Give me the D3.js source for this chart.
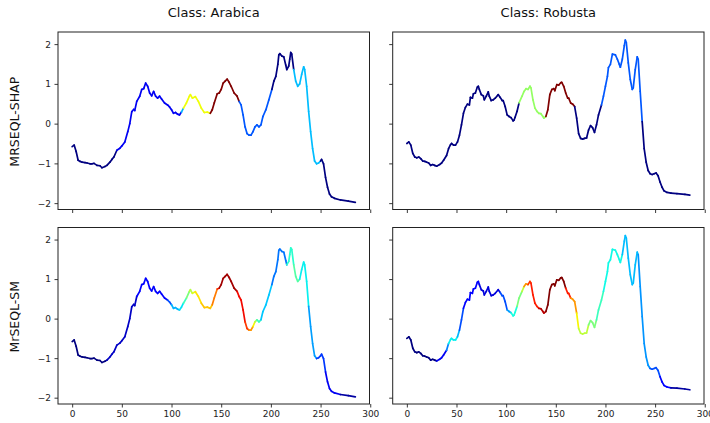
<!DOCTYPE html>
<html>
<head>
<meta charset="utf-8">
<script src="https://cdn.jsdelivr.net/npm/d3@7"></script>
<style>
  html, body { margin: 0; padding: 0; background: #fff; }
  svg { display: block; font-family: "DejaVu Sans", sans-serif; }
</style>
</head>
<body>
<svg id="chart" width="710" height="423"></svg>
<script>
// Spectra for one sample of each coffee class: [step, value]
const arabicaSeries = [
  [0,-0.58],[2,-0.54],[4,-0.7],[6,-0.92],[8,-0.95],[10,-0.97],[13,-0.98],[15,-0.99],
  [18,-1.01],[20,-1.01],[22,-1.0],[25,-1.05],[28,-1.06],[30,-1.11],[33,-1.08],[35,-1.05],
  [38,-0.97],[40,-0.9],[42,-0.84],[45,-0.67],[48,-0.62],[50,-0.56],[53,-0.46],[56,-0.2],
  [58,0.0],[60,0.3],[62,0.36],[63,0.33],[65,0.56],[68,0.69],[70,0.86],[72,0.88],
  [74,1.02],[76,0.94],[78,0.77],[80,0.70],[82,0.81],[84,0.69],[86,0.64],[88,0.69],
  [90,0.62],[93,0.52],[96,0.47],[98,0.42],[100,0.35],[102,0.26],[104,0.28],[106,0.24],
  [108,0.22],[110,0.29],[112,0.39],[115,0.52],[118,0.69],[119,0.73],[121,0.64],[124,0.68],
  [127,0.56],[130,0.39],[133,0.28],[136,0.29],[139,0.26],[141,0.35],[143,0.52],[146,0.75],
  [148,0.77],[150,0.86],[152,1.02],[154,1.07],[156,1.12],[158,1.04],[160,0.94],[163,0.77],
  [166,0.69],[168,0.56],[170,0.47],[172,0.22],[174,-0.08],[176,-0.25],[178,-0.29],[180,-0.29],
  [182,-0.2],[184,-0.08],[186,-0.03],[188,-0.08],[190,-0.03],[192,0.18],[195,0.35],[198,0.6],
  [201,0.86],[203,1.07],[205,1.19],[207,1.49],[208,1.73],[209,1.76],[211,1.70],[213,1.68],
  [215,1.47],[216,1.36],[218,1.45],[219,1.62],[220,1.79],[221,1.75],[223,1.36],[225,1.07],
  [227,0.94],[229,1.0],[231,1.24],[233,1.43],[234,1.36],[236,0.94],[238,0.31],[240,-0.2],
  [242,-0.63],[244,-0.94],[246,-1.01],[248,-0.99],[250,-0.94],[251,-0.90],[253,-1.01],[255,-1.35],
  [257,-1.6],[259,-1.77],[261,-1.84],[264,-1.88],[270,-1.92],[278,-1.95],[285,-1.98]
];

const robustaSeries = [
  [0,-0.5],[2,-0.46],[4,-0.54],[6,-0.75],[8,-0.84],[10,-0.86],[12,-0.84],[14,-0.88],
  [16,-0.94],[18,-0.95],[20,-0.97],[22,-0.99],[24,-1.05],[26,-1.03],[28,-1.05],[30,-1.07],
  [33,-1.03],[35,-0.99],[37,-0.92],[40,-0.8],[42,-0.63],[44,-0.53],[45,-0.5],[47,-0.54],
  [49,-0.54],[51,-0.46],[53,-0.29],[55,-0.03],[57,0.26],[59,0.41],[61,0.49],[63,0.47],
  [64,0.66],[66,0.64],[67,0.75],[69,0.77],[71,0.92],[72,0.94],[73,0.86],[75,0.73],
  [77,0.70],[78,0.6],[80,0.69],[82,0.8],[83,0.69],[85,0.58],[87,0.6],[89,0.64],
  [92,0.73],[94,0.66],[96,0.58],[97,0.58],[99,0.43],[101,0.22],[103,0.18],[105,0.15],
  [107,0.07],[108,0.09],[109,0.16],[111,0.31],[113,0.52],[116,0.69],[118,0.81],[120,0.88],
  [122,0.86],[124,0.94],[125,0.9],[127,0.6],[129,0.39],[131,0.31],[133,0.26],[135,0.25],
  [137,0.18],[138,0.14],[140,0.18],[142,0.35],[144,0.73],[146,0.86],[148,0.88],[149,0.83],
  [151,0.98],[153,0.97],[155,1.03],[156,1.04],[158,0.94],[160,0.77],[162,0.64],[163,0.64],
  [165,0.52],[167,0.49],[169,0.43],[171,0.14],[173,-0.25],[175,-0.37],[177,-0.39],[179,-0.37],
  [181,-0.36],[183,-0.16],[185,-0.05],[187,-0.1],[189,-0.22],[191,-0.03],[193,0.22],[196,0.47],
  [198,0.69],[200,0.94],[202,1.19],[203,1.41],[205,1.49],[207,1.75],[210,1.73],[212,1.62],
  [214,1.49],[215,1.42],[217,1.62],[219,1.96],[220,2.10],[221,2.04],[223,1.53],[225,1.11],
  [227,0.86],[228,0.9],[230,1.36],[232,1.68],[233,1.62],[235,0.81],[237,0.05],[239,-0.63],
  [241,-0.97],[243,-1.18],[245,-1.26],[247,-1.28],[249,-1.26],[251,-1.24],[253,-1.31],[255,-1.47],
  [257,-1.6],[259,-1.69],[262,-1.73],[266,-1.75],[272,-1.76],[280,-1.78],[285,-1.80]
];

// Explanation weights (0..1) as runs: [first step of run, weight]
const arabicaShap = [[0,0],[44,0.1],[110,0.3],[112,0.64],[139,1.0],[168,0.21],[200,0.0],[222,0.31],[250,0.0]];
const robustaShap = [[0,0],[113,0.53],[140,1.0],[169,0.0],[195,0.21],[236,0.0]];
const arabicaSm = [
  [0,0],[35,0.06],[65,0.12],[95,0.2],[100,0.3],[108,0.35],[112,0.42],[115,0.5],[118,0.57],
  [121,0.62],[124,0.67],[130,0.7],[140,0.78],[144,0.87],[148,0.97],[166,0.9],[174,0.85],
  [178,0.75],[181,0.65],[183,0.55],[186,0.42],[190,0.32],[200,0.24],[216,0.4],[222,0.45],
  [228,0.36],[237,0.28],[245,0.18],[255,0.1],[265,0.03]
];
const robustaSm = [
  [0,0],[30,0.1],[38,0.25],[41,0.36],[50,0.3],[53,0.2],[56,0.12],[73,0.08],[93,0.2],
  [100,0.28],[105,0.38],[110,0.5],[115,0.58],[118,0.75],[121,0.85],[125,0.88],[133,0.95],
  [140,1.0],[160,0.88],[165,0.75],[170,0.65],[173,0.58],[182,0.5],[190,0.42],[197,0.37],
  [217,0.31],[233,0.27],[245,0.2],[255,0.12],[265,0.03]
];

const classNames = ["Arabica", "Robusta"];
const methodNames = ["MRSEQL-SHAP", "MrSEQL-SM"];
const xTickValues = [0, 50, 100, 150, 200, 250, 300];
const yTickValues = [-2, -1, 0, 1, 2];

const seriesByClass = [arabicaSeries, robustaSeries];
const weightsGrid = [[arabicaShap, robustaShap], [arabicaSm, robustaSm]];

// matplotlib "jet" colormap, rebuilt from its channel breakpoints
const jetR = d3.scaleLinear().domain([0, 0.35, 0.66, 0.89, 1]).range([0, 0, 1, 1, 0.5]).clamp(true);
const jetG = d3.scaleLinear().domain([0, 0.125, 0.375, 0.64, 0.91, 1]).range([0, 0, 1, 1, 0, 0]).clamp(true);
const jetB = d3.scaleLinear().domain([0, 0.11, 0.34, 0.65, 1]).range([0.5, 1, 1, 0, 0]).clamp(true);
const jet = v => d3.rgb(jetR(v) * 255, jetG(v) * 255, jetB(v) * 255).formatHex();

function weightAt(runs, step) {
  let w = runs[0][1];
  for (const [start, val] of runs) { if (step >= start) w = val; else break; }
  return w;
}

const svg = d3.select("#chart");
const colX = [[58, 369.5], [392.7, 704]];
const rowY = [[32, 209.5], [227.5, 404]];
const xDomain = [-14.25, 299.25];
const yDomain = [-2.16, 2.305];

const fmt = d => d3.format("d")(d).replace("-", "\u2212");

methodNames.forEach((method, r) => {
  classNames.forEach((cls, c) => {
    const [x0, x1] = colX[c];
    const [y0, y1] = rowY[r];
    const x = d3.scaleLinear().domain(xDomain).range([x0, x1]);
    const y = d3.scaleLinear().domain(yDomain).range([y1, y0]);
    const g = svg.append("g");

    // colored line segments
    const data = seriesByClass[c];
    const runs = weightsGrid[r][c];
    const line = d3.line().x(d => x(d[0])).y(d => y(d[1]));
    const segs = d3.pairs(data);
    g.append("g")
      .selectAll("path")
      .data(segs)
      .join("path")
      .attr("d", d => line(d))
      .attr("fill", "none")
      .attr("stroke", d => jet(weightAt(runs, d[0][0])))
      .attr("stroke-width", 1.7)
      .attr("stroke-linecap", "round")
      .attr("stroke-linejoin", "round");

    // frame
    g.append("rect")
      .attr("x", x0).attr("y", y0)
      .attr("width", x1 - x0).attr("height", y1 - y0)
      .attr("fill", "none").attr("stroke", "#222").attr("stroke-width", 1);

    // axes
    const xAxis = d3.axisBottom(x).tickValues(xTickValues).tickSize(3.5).tickPadding(3.5)
      .tickFormat(r === 1 ? fmt : () => "");
    const yAxis = d3.axisLeft(y).tickValues(yTickValues).tickSize(3.5).tickPadding(3.5)
      .tickFormat(c === 0 ? fmt : () => "");
    const gx = g.append("g").attr("transform", `translate(0,${y1})`).call(xAxis);
    const gy = g.append("g").attr("transform", `translate(${x0},0)`).call(yAxis);
    [gx, gy].forEach(a => {
      a.select(".domain").remove();
      a.selectAll(".tick line").attr("stroke", "#222").attr("stroke-width", 0.9);
      a.selectAll(".tick text").attr("fill", "#222")
        .style("font-family", "'DejaVu Sans', sans-serif").style("font-size", "9px");
    });

    if (r === 0) {
      svg.append("text")
        .attr("x", (x0 + x1) / 2).attr("y", 17)
        .attr("text-anchor", "middle")
        .style("font-size", "13px").attr("fill", "#111")
        .text("Class: " + cls);
    }
    if (c === 0) {
      svg.append("text")
        .attr("transform", `translate(19,${(y0 + y1) / 2 + 1}) rotate(-90)`)
        .attr("text-anchor", "middle")
        .style("font-size", "12.5px").attr("fill", "#111")
        .text(method);
    }
  });
});
</script>
</body>
</html>
